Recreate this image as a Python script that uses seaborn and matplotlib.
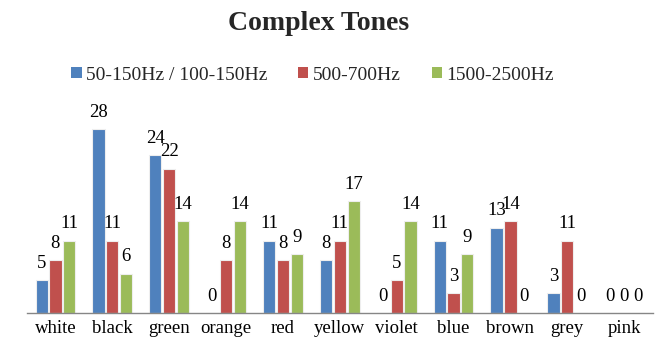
import matplotlib
matplotlib.use("Agg")
import matplotlib.pyplot as plt
import seaborn as sns
import pandas as pd

# Colour names on the x axis
colours = ["white", "black", "green", "orange", "red", "yellow",
           "violet", "blue", "brown", "grey", "pink"]

# Frequency bands (legend entries)
bands = ["50-150Hz / 100-150Hz", "500-700Hz", "1500-2500Hz"]

# Counts per colour for each band
low_band = [5, 28, 24, 0, 11, 8, 0, 11, 13, 3, 0]
mid_band = [8, 11, 22, 8, 8, 11, 5, 3, 14, 11, 0]
high_band = [11, 6, 14, 14, 9, 17, 14, 9, 0, 0, 0]

band_colours = ["#4F81BD", "#C0504D", "#9BBB59"]

df = pd.DataFrame({
    "colour": colours * 3,
    "band": [bands[0]] * len(colours) + [bands[1]] * len(colours) + [bands[2]] * len(colours),
    "count": low_band + mid_band + high_band,
})

sns.set_theme(style="white")
plt.rcParams["font.family"] = ["Liberation Serif", "DejaVu Serif"]

fig = plt.figure(figsize=(6.57, 3.41), dpi=100)
ax = fig.add_axes([27 / 657, 1 - 313 / 341, (652.6 - 27) / 657, (313 - 116) / 341])

sns.barplot(data=df, x="colour", y="count", hue="band", order=colours,
            hue_order=bands, palette=band_colours, width=0.73, gap=0.12,
            edgecolor="#eeeeee", linewidth=0.8, saturation=1, ax=ax)

for container in ax.containers:
    ax.bar_label(container, fmt="%g", padding=6, fontsize=13.5, color="black")

ax.set_ylim(0, 30)
ax.set_xlim(-0.5, len(colours) - 0.5)
ax.set_xlabel("")
ax.set_ylabel("")
ax.set_yticks([])
ax.tick_params(axis="x", length=0, pad=5, labelsize=13.5, colors="black")
for side in ["top", "left", "right"]:
    ax.spines[side].set_visible(False)
ax.spines["bottom"].set_color("#868686")
ax.spines["bottom"].set_linewidth(1.0)

ax.legend_.remove()
handles = [plt.Rectangle((0, 0), 1, 1, facecolor=c, edgecolor="none") for c in band_colours]
fig.legend(handles, bands, loc="center", bbox_to_anchor=(312.5 / 657, 1 - 75 / 341),
           ncol=3, frameon=False, fontsize=14, handlelength=0.52, handleheight=0.52,
           handletextpad=0.22, columnspacing=1.6, borderaxespad=0, borderpad=0)

fig.suptitle("Complex Tones", x=319 / 657, y=1 - 24 / 341, va="center",
             fontsize=20, fontweight="bold")

fig.savefig("out.png", dpi=100)
